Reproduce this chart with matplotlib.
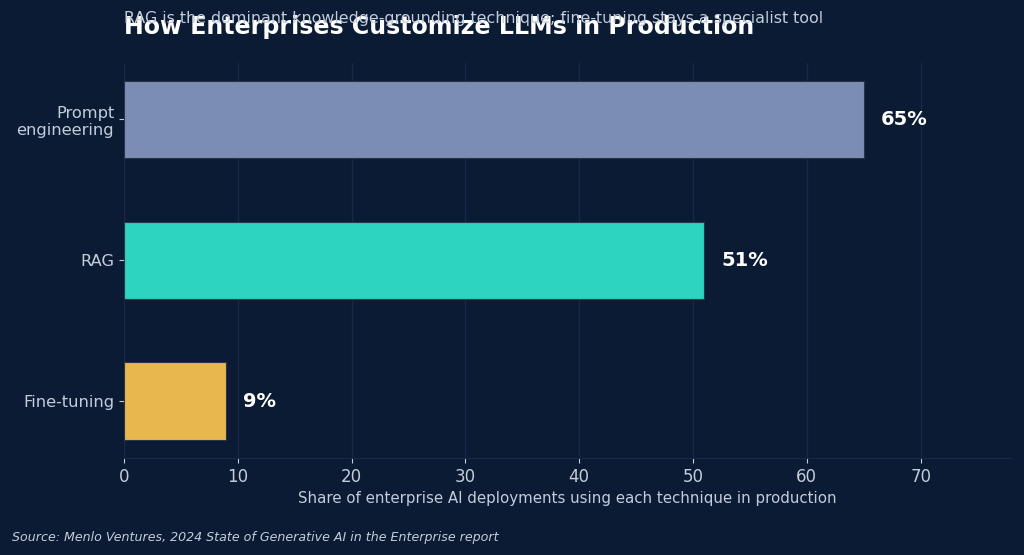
import numpy as np
import matplotlib.pyplot as plt

techniques = ["Prompt\nengineering", "RAG", "Fine-tuning"]
shares = [65, 51, 9]
bar_colors = ["#7b8db5", "#2dd4bf", "#e8b84f"]

bg = "#0b1b33"
text_col = "#c3ccdb"
grid_col = "#16294a"

fig = plt.figure(figsize=(10.24, 5.55), dpi=100, facecolor=bg)
ax = fig.add_axes([0.121, 0.175, 0.867, 0.712], facecolor=bg)

y = np.arange(len(techniques))
ax.barh(y, shares, height=0.55, color=bar_colors, edgecolor="#2a3548", linewidth=0.8, zorder=3)
ax.invert_yaxis()
ax.set_yticks(y)
ax.set_yticklabels(techniques, fontsize=11.7, color=text_col)
ax.set_xlim(0, 78)
ax.set_xticks(np.arange(0, 80, 10))
ax.tick_params(axis="x", colors=text_col, labelsize=12)
ax.tick_params(axis="y", colors=text_col)
ax.grid(axis="x", color=grid_col, linewidth=1, zorder=0)

for s in ["top", "right", "left"]:
    ax.spines[s].set_visible(False)
ax.spines["bottom"].set_color(grid_col)

for yi, v in zip(y, shares):
    ax.text(v + 1.5, yi, f"{v}%", va="center", ha="left", fontsize=14,
            fontweight="bold", color="white")

ax.set_xlabel("Share of enterprise AI deployments using each technique in production",
              fontsize=10.8, color=text_col, labelpad=4)

fig.text(0.121, 0.952, "How Enterprises Customize LLMs in Production", fontsize=17.1,
         fontweight="bold", color="white", ha="left", va="center")
fig.text(0.121, 0.967, "RAG is the dominant knowledge-grounding technique; fine-tuning stays a specialist tool",
         fontsize=11.4, color=text_col, ha="left", va="center")
fig.text(0.012, 0.032, "Source: Menlo Ventures, 2024 State of Generative AI in the Enterprise report",
         fontsize=9.1, style="italic", color=text_col, ha="left", va="center")

fig.savefig("out.png", dpi=100, facecolor=bg)
